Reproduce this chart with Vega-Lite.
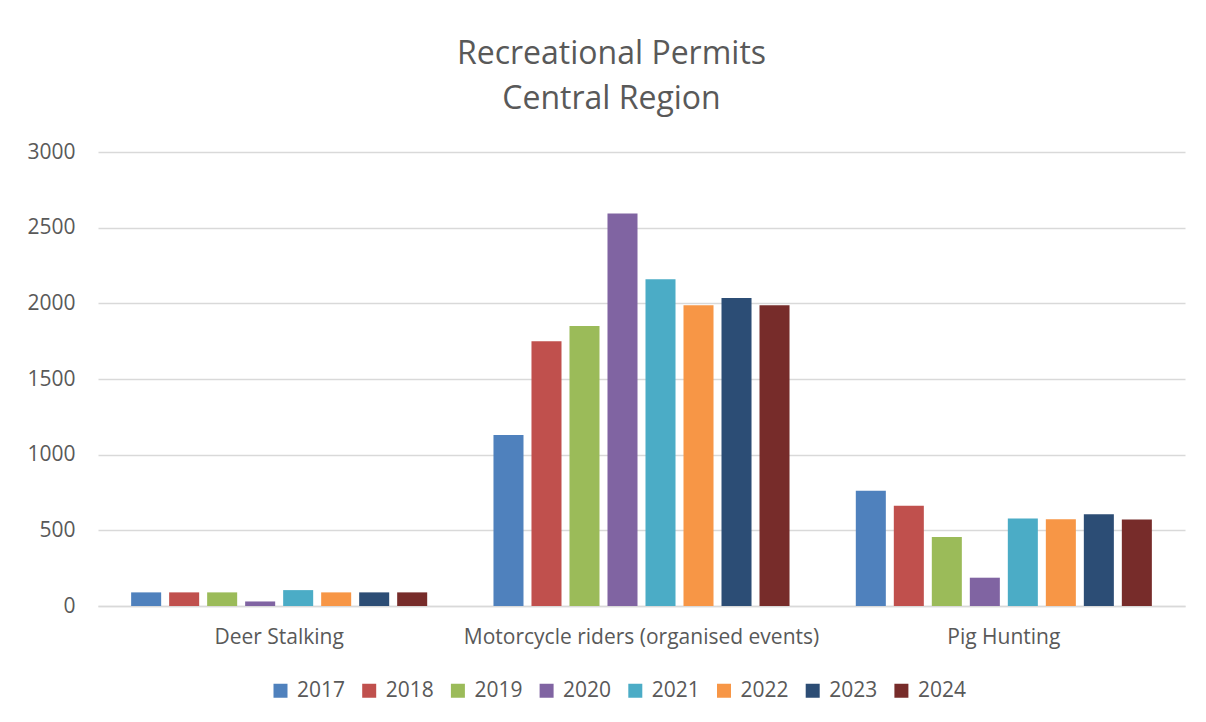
{
  "$schema": "https://vega.github.io/schema/vega-lite/v6.json",
  "autosize": {"type": "none"},
  "width": 1087,
  "height": 454,
  "padding": {"left": 98, "top": 152, "right": 21, "bottom": 116},
  "background": "white",
  "title": {
    "text": ["Recreational Permits", "Central Region"],
    "font": "Open Sans",
    "fontSize": 32,
    "fontWeight": "normal",
    "color": "#595959",
    "lineHeight": 45,
    "anchor": "middle",
    "frame": "group",
    "dx": -30,
    "offset": 25
  },
  "data": {
    "values": [
      {"activity": "Deer Stalking", "year": "2017", "permits": 90},
      {"activity": "Deer Stalking", "year": "2018", "permits": 90},
      {"activity": "Deer Stalking", "year": "2019", "permits": 90},
      {"activity": "Deer Stalking", "year": "2020", "permits": 30},
      {"activity": "Deer Stalking", "year": "2021", "permits": 105},
      {"activity": "Deer Stalking", "year": "2022", "permits": 90},
      {"activity": "Deer Stalking", "year": "2023", "permits": 90},
      {"activity": "Deer Stalking", "year": "2024", "permits": 90},
      {"activity": "Motorcycle riders (organised events)", "year": "2017", "permits": 1130},
      {"activity": "Motorcycle riders (organised events)", "year": "2018", "permits": 1750},
      {"activity": "Motorcycle riders (organised events)", "year": "2019", "permits": 1850},
      {"activity": "Motorcycle riders (organised events)", "year": "2020", "permits": 2593},
      {"activity": "Motorcycle riders (organised events)", "year": "2021", "permits": 2159},
      {"activity": "Motorcycle riders (organised events)", "year": "2022", "permits": 1987},
      {"activity": "Motorcycle riders (organised events)", "year": "2023", "permits": 2036},
      {"activity": "Motorcycle riders (organised events)", "year": "2024", "permits": 1987},
      {"activity": "Pig Hunting", "year": "2017", "permits": 762},
      {"activity": "Pig Hunting", "year": "2018", "permits": 663},
      {"activity": "Pig Hunting", "year": "2019", "permits": 456},
      {"activity": "Pig Hunting", "year": "2020", "permits": 187},
      {"activity": "Pig Hunting", "year": "2021", "permits": 579},
      {"activity": "Pig Hunting", "year": "2022", "permits": 573},
      {"activity": "Pig Hunting", "year": "2023", "permits": 606},
      {"activity": "Pig Hunting", "year": "2024", "permits": 571}
    ]
  },
  "mark": {"type": "bar"},
  "encoding": {
    "x": {
      "field": "activity",
      "type": "nominal",
      "sort": null,
      "title": null,
      "scale": {"paddingInner": 0, "paddingOuter": 0},
      "axis": {
        "labelAngle": 0,
        "labelLimit": 0,
        "labelFont": "Open Sans",
        "labelFontSize": 21,
        "labelColor": "#595959",
        "labelPadding": 20,
        "ticks": false,
        "domainColor": "#d9d9d9",
        "domainWidth": 1.5
      }
    },
    "xOffset": {
      "field": "year",
      "type": "nominal",
      "scale": {"paddingInner": 0.21, "paddingOuter": 0.872}
    },
    "y": {
      "field": "permits",
      "type": "quantitative",
      "title": null,
      "scale": {"domain": [0, 3000], "nice": false},
      "axis": {
        "values": [0, 500, 1000, 1500, 2000, 2500, 3000],
        "format": "d",
        "labelFont": "Open Sans",
        "labelFontSize": 21,
        "labelColor": "#595959",
        "labelPadding": 23,
        "ticks": false,
        "domain": false,
        "gridColor": "#d9d9d9",
        "gridWidth": 1.5
      }
    },
    "color": {
      "field": "year",
      "type": "nominal",
      "title": null,
      "scale": {
        "domain": ["2017", "2018", "2019", "2020", "2021", "2022", "2023", "2024"],
        "range": ["#4f81bd", "#c0504d", "#9bbb59", "#8064a2", "#4bacc6", "#f79646", "#2c4d75", "#772c2a"]
      },
      "legend": {
        "orient": "none",
        "legendX": 172,
        "legendY": 528,
        "direction": "horizontal",
        "columns": 8,
        "columnPadding": 12.7,
        "symbolType": "square",
        "symbolSize": 196,
        "symbolStrokeWidth": 0,
        "symbolOpacity": 1,
        "labelOffset": 6,
        "labelFont": "Open Sans",
        "labelFontSize": 21,
        "labelColor": "#595959"
      }
    }
  },
  "config": {
    "view": {"stroke": null}
  }
}
